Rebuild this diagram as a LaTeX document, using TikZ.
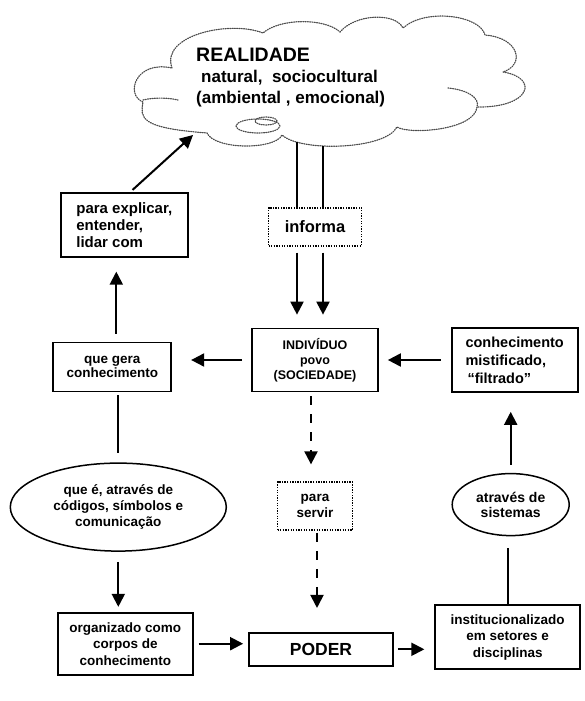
\documentclass[tikz,border=0pt]{standalone}
\usepackage{fontspec}
\setmainfont{Liberation Sans}
\usetikzlibrary{arrows.meta, positioning, shapes.geometric}

\tikzset{
  box/.style={draw, line width=1.7pt, inner sep=2pt, align=center},
  dotbox/.style={draw, line width=1.6pt, dash pattern=on 1.3pt off 1.3pt, inner sep=2pt, align=center},
  oval/.style={draw, ellipse, line width=1.5pt, inner sep=1pt, align=center},
  link/.style={line width=2pt},
  pointed/.style={-{Triangle[length=13pt, width=13pt]}},
  cloudline/.style={black!70, line width=1.2pt, dash pattern=on 1pt off 1.3pt, line cap=round}
}

\begin{document}
\begin{tikzpicture}[x=1pt, y=-1pt, font=\bfseries]
    \useasboundingbox (0,0) rectangle (584,701);

    % nuvem da realidade
    \draw[cloudline] (172,68) .. controls (160,35) and (230,20) .. (263,33)
        .. controls (280,18) and (325,18) .. (340,32)
        .. controls (355,14) and (395,12) .. (403,28)
        .. controls (425,8) and (480,15) .. (485,35)
        .. controls (520,38) and (525,65) .. (503,72)
        .. controls (540,78) and (530,108) .. (477,107)
        .. controls (475,130) and (410,135) .. (397,127)
        .. controls (385,150) and (300,152) .. (282,135)
        .. controls (275,150) and (215,150) .. (207,133)
        .. controls (140,128) and (140,118) .. (143,102)
        .. controls (125,95) and (135,60) .. (172,68);
    \draw[cloudline] (143,100) .. controls (155,97) and (170,98) .. (178,100);
    \draw[cloudline] (448,88) .. controls (468,90) and (480,98) .. (477,107);
    \draw[cloudline] (258,126) ellipse [x radius=22pt, y radius=7pt];
    \draw[cloudline] (266,121) ellipse [x radius=11pt, y radius=4pt];
    \node (realidade) [anchor=north west, inner sep=0pt, align=left,
        font=\bfseries\fontsize{17}{21}\selectfont] at (196,48)
        {{\fontsize{19.5}{21}\selectfont REALIDADE}\\
         \hspace{5pt}natural, \ sociocultural\\
         (ambiental , emocional)};
    \coordinate (cloudA) at (297,142);
    \coordinate (cloudB) at (323,146);
    \coordinate (cloudC) at (193,135);

    % caixas
    \node (indiv) [box, minimum width=126pt, minimum height=63pt,
        font=\bfseries\fontsize{12.5}{15}\selectfont] at (315,360)
        {INDIVÍDUO\\povo\\(SOCIEDADE)};
    \node (informa) [dotbox, minimum width=93pt, minimum height=38pt, above=81pt of indiv,
        font=\bfseries\fontsize{16.5}{19}\selectfont] {informa};
    \node (servir) [dotbox, minimum width=75pt, minimum height=48pt, below=89pt of indiv,
        font=\bfseries\fontsize{13.5}{15.5}\selectfont] {para\\servir};
    \node (poder) [box, minimum width=144pt, minimum height=33pt, below=101pt of servir, xshift=6pt,
        font=\bfseries\fontsize{17.5}{20}\selectfont] {PODER};
    \node (gera) [box, minimum width=118pt, minimum height=49pt, left=79pt of indiv, yshift=-7pt,
        font=\bfseries\fontsize{13.5}{14.5}\selectfont] {que gera\\conhecimento};
    \node (explicar) [box, align=left, minimum width=127pt, minimum height=64pt, above=84pt of gera, xshift=12pt,
        font=\bfseries\fontsize{15}{17}\selectfont] {para explicar,\\entender,\\lidar com};
    \node (codigos) [oval, minimum width=216pt, minimum height=88pt, below=70pt of gera, xshift=6pt,
        font=\bfseries\fontsize{13.5}{16}\selectfont] {que é, através de\\códigos, símbolos e\\comunicação};
    \node (organizado) [box, minimum width=135pt, minimum height=62pt, below=60pt of codigos, xshift=7pt,
        font=\bfseries\fontsize{13.5}{16.5}\selectfont] {organizado como\\corpos de\\conhecimento};
    \node (mistificado) [box, align=left, minimum width=126pt, minimum height=64pt, right=72pt of indiv,
        font=\bfseries\fontsize{14.5}{18}\selectfont] {conhecimento\\mistificado,\\\hspace{2pt}``filtrado''};
    \node (sistemas) [oval, minimum width=117pt, minimum height=62pt, below=80pt of mistificado, xshift=-4pt,
        font=\bfseries\fontsize{14}{15}\selectfont] {através de\\sistemas};
    \node (institucional) [box, minimum width=145pt, minimum height=64pt, below=68pt of sistemas, xshift=-3pt,
        font=\bfseries\fontsize{13.5}{16.5}\selectfont] {institucionalizado\\em setores e\\disciplinas};

    % ligacoes sem ponta
    \draw[link] (cloudA) -- (cloudA |- informa.north)
        (cloudB) -- (cloudB |- informa.north)
        ([yshift=-3pt]gera.south -| codigos.north) -- ([yshift=9pt]codigos.north)
        (institucional.north) -- ([yshift=-12pt]institucional.north |- sistemas.south);

    % setas
    \path[link, pointed]
        (cloudA |- informa.south) edge[shorten <=6pt, shorten >=13pt] (cloudA |- indiv.north)
        (cloudB |- informa.south) edge[shorten <=6pt, shorten >=13pt] (cloudB |- indiv.north)
        (indiv.west) edge[shorten <=9pt, shorten >=19pt] (indiv.west -| gera.east)
        ([xshift=4pt]gera.north) edge[shorten <=8pt, shorten >=14pt] ([xshift=4pt]gera.north |- explicar.south)
        ([xshift=6pt]explicar.north) edge[shorten <=3pt] (cloudC)
        (codigos.south) edge[shorten <=10pt, shorten >=5pt] (codigos.south |- organizado.north)
        (organizado.east) edge[shorten <=5pt, shorten >=5pt] (organizado.east -| poder.west)
        (poder.east) edge[shorten <=4pt, shorten >=10pt] (poder.east -| institucional.west)
        (sistemas.north) edge[shorten <=8pt, shorten >=19pt] (sistemas.north |- mistificado.south)
        (mistificado.west) edge[shorten <=10pt, shorten >=9pt] (mistificado.west -| indiv.east);

    \path[link, pointed, dash pattern=on 9pt off 9pt]
        ([xshift=-4pt]indiv.south) edge[shorten <=4pt, shorten >=17pt] ([xshift=-4pt]indiv.south |- servir.north)
        ([xshift=2pt]servir.south) edge[shorten <=2pt, shorten >=24pt] ([xshift=2pt]servir.south |- poder.north);
\end{tikzpicture}
\end{document}
